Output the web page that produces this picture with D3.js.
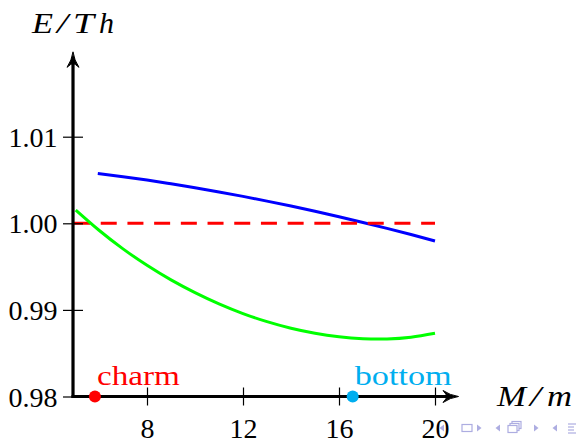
<!DOCTYPE html>
<html>
<head>
<meta charset="utf-8">
<script src="https://cdn.jsdelivr.net/npm/d3@7"></script>
<style>
  html, body { margin: 0; padding: 0; background: #fff; }
  svg { display: block; }
  text { font-family: "Liberation Serif", "DejaVu Serif", serif; }
</style>
</head>
<body>
<svg id="chart" width="576" height="440"></svg>
<script>
// ---- data ----
const xTicks = [8, 12, 16, 20];
const xTickLabels = ["8", "12", "16", "20"];
const yTicks = [0.98, 0.99, 1.00, 1.01];
const yTickLabels = ["0.98", "0.99", "1.00", "1.01"];

const greenM = [5.03, 6, 7, 8, 9, 10, 11, 12, 13, 14, 15, 16, 17, 18, 19, 20];
const greenE = [1.00153, 0.9992, 0.99705, 0.99515, 0.99347, 0.99200, 0.99070, 0.98958, 0.98864, 0.98788, 0.98730, 0.98690, 0.98668, 0.98665, 0.98685, 0.98730];

const blueM = [5.95, 7, 8, 9, 10, 11, 12, 13, 14, 15, 16, 17, 18, 19, 20];
const blueE = [1.00575, 1.00538, 1.00499, 1.00456, 1.00410, 1.00362, 1.00311, 1.00256, 1.00199, 1.00139, 1.00076, 1.00010, 0.99941, 0.99870, 0.99795];

const redM = [4.96, 20];
const redE = [1.00, 1.00];

const markerNames = ["charm", "bottom"];
const markerM = [5.83, 16.57];
const markerColors = ["#ff0000", "#00aeef"];

const axisMin = [4.917, 0.98];   // origin of the axes
const axisMax = [20.98, 1.0198]; // arrow tips

// ---- scales ----
const x = d3.scaleLinear().domain([8, 20]).range([147, 435]);
const y = d3.scaleLinear().domain([0.98, 1.01]).range([396.5, 136.7]);

const svg = d3.select("#chart");
const x0 = x(axisMin[0]), y0 = y(axisMin[1]);

// ---- curves ----
const line = d3.line().x(d => x(d[0])).y(d => y(d[1])).curve(d3.curveNatural);

svg.append("path")
  .datum(blueM.map((m, i) => [m, blueE[i]]))
  .attr("d", line).attr("fill", "none")
  .attr("stroke", "#0000ff").attr("stroke-width", 3);

svg.append("path")
  .datum(redM.map((m, i) => [m, redE[i]]))
  .attr("d", line).attr("fill", "none")
  .attr("stroke", "#ff0000").attr("stroke-width", 3)
  .attr("stroke-dasharray", "16,10.7");

svg.append("path")
  .datum(greenM.map((m, i) => [m, greenE[i]]))
  .attr("d", line).attr("fill", "none")
  .attr("stroke", "#00ff00").attr("stroke-width", 3);

// ---- axes ----
const yAxis = d3.axisLeft(y).tickValues(yTicks).tickFormat((d, i) => yTickLabels[i]).tickSize(10);
const gy = svg.append("g").attr("transform", `translate(${x0},0)`).call(yAxis)
  .attr("font-family", "Liberation Serif, serif");
gy.select(".domain").remove();
gy.selectAll(".tick line").attr("x1", -10).attr("x2", 10).attr("stroke", "#000").attr("stroke-width", 1.2);
gy.selectAll(".tick text")
  .attr("x", -15.5).attr("dy", null).attr("y", 9.5)
  .attr("font-size", 28)
  .attr("fill", "#000").attr("text-anchor", "end");

const xAxis = d3.axisBottom(x).tickValues(xTicks).tickFormat((d, i) => xTickLabels[i]).tickSize(9);
const gx = svg.append("g").attr("transform", `translate(0,${y0})`).call(xAxis)
  .attr("font-family", "Liberation Serif, serif");
gx.select(".domain").remove();
gx.selectAll(".tick line").attr("y1", -9).attr("y2", 9).attr("stroke", "#000").attr("stroke-width", 1.2);
gx.selectAll(".tick text")
  .attr("dy", null).attr("y", 41.5)
  .attr("font-size", 28)
  .attr("fill", "#000").attr("text-anchor", "middle");

// axis lines
const xTip = x(axisMax[0]), yTip = y(axisMax[1]);
svg.append("line").attr("x1", x0).attr("y1", y0 + 1.5).attr("x2", x0).attr("y2", yTip + 6)
  .attr("stroke", "#000").attr("stroke-width", 3.2);
svg.append("line").attr("x1", x0 - 1.5).attr("y1", y0).attr("x2", xTip - 6).attr("y2", y0)
  .attr("stroke", "#000").attr("stroke-width", 3.2);

// arrow heads
function arrow(tx, ty, angle) {
  svg.append("path")
    .attr("d", "M0,0 Q1.2,8.5 6,15.5 Q2,12 0,11.5 Q-2,12 -6,15.5 Q-1.2,8.5 0,0 Z")
    .attr("transform", `translate(${tx},${ty}) rotate(${angle})`)
    .attr("fill", "#000").attr("stroke", "#000").attr("stroke-width", 1).attr("stroke-linejoin", "round");
}
arrow(x0, yTip, 0);
arrow(xTip, y0, 90);

// axis titles (math italic, glyphs slightly widened like Computer Modern math italic)
function mathLabel(parts, xs, ws, baseY) {
  const g = svg.append("g").attr("class", "axis-title");
  parts.forEach((p, i) => {
    g.append("text").attr("x", xs[i]).attr("y", baseY)
      .attr("font-size", 29).attr("font-style", "italic")
      .attr("font-family", "Liberation Serif, serif")
      .attr("textLength", ws[i]).attr("lengthAdjust", "spacingAndGlyphs")
      .text(p);
  });
}
mathLabel(["E", "/", "T", "h"], [32, 57, 73, 99], [21, 11, 21, 15], 33);
mathLabel(["M", "/", "m"], [497, 530, 547], [29, 11, 25], 406);

// ---- markers ----
const markerWidths = [83, 97];
markerM.forEach((m, i) => {
  svg.append("circle").attr("cx", x(m)).attr("cy", y0).attr("r", 6).attr("fill", markerColors[i]);
  svg.append("text").attr("x", x(m) + 2).attr("y", 385).attr("font-size", 27)
    .attr("textLength", markerWidths[i]).attr("lengthAdjust", "spacingAndGlyphs")
    .attr("fill", markerColors[i]).text(markerNames[i]);
});

// ---- beamer navigation symbols ----
const nav = svg.append("g").attr("fill", "#adade1").attr("stroke", "#adade1");
const navY = 428;
function tri(cx, dir) {
  nav.append("path").attr("stroke", "none")
    .attr("d", dir > 0 ? `M${cx - 2},${navY - 3.5} L${cx + 2.5},${navY} L${cx - 2},${navY + 3.5} Z`
                       : `M${cx + 2},${navY - 3.5} L${cx - 2.5},${navY} L${cx + 2},${navY + 3.5} Z`);
}
tri(442, -1);
nav.append("rect").attr("x", 462).attr("y", navY - 3.5).attr("width", 10).attr("height", 7).attr("fill", "none").attr("stroke-width", 1.2);
tri(479, 1);
tri(498, -1);
[[512, 421.5], [510, 423.5], [508, 425.5]].forEach(p => {
  nav.append("rect").attr("x", p[0]).attr("y", p[1]).attr("width", 9).attr("height", 7)
    .attr("fill", "#fff").attr("stroke-width", 1.2);
});
tri(536, 1);
tri(555, -1);
[424, 427, 430, 433].forEach((yy, i) => {
  nav.append("line").attr("x1", 568).attr("x2", i % 3 === 0 ? 576 : 574).attr("y1", yy).attr("y2", yy).attr("stroke-width", 1.2);
});
</script>
</body>
</html>
